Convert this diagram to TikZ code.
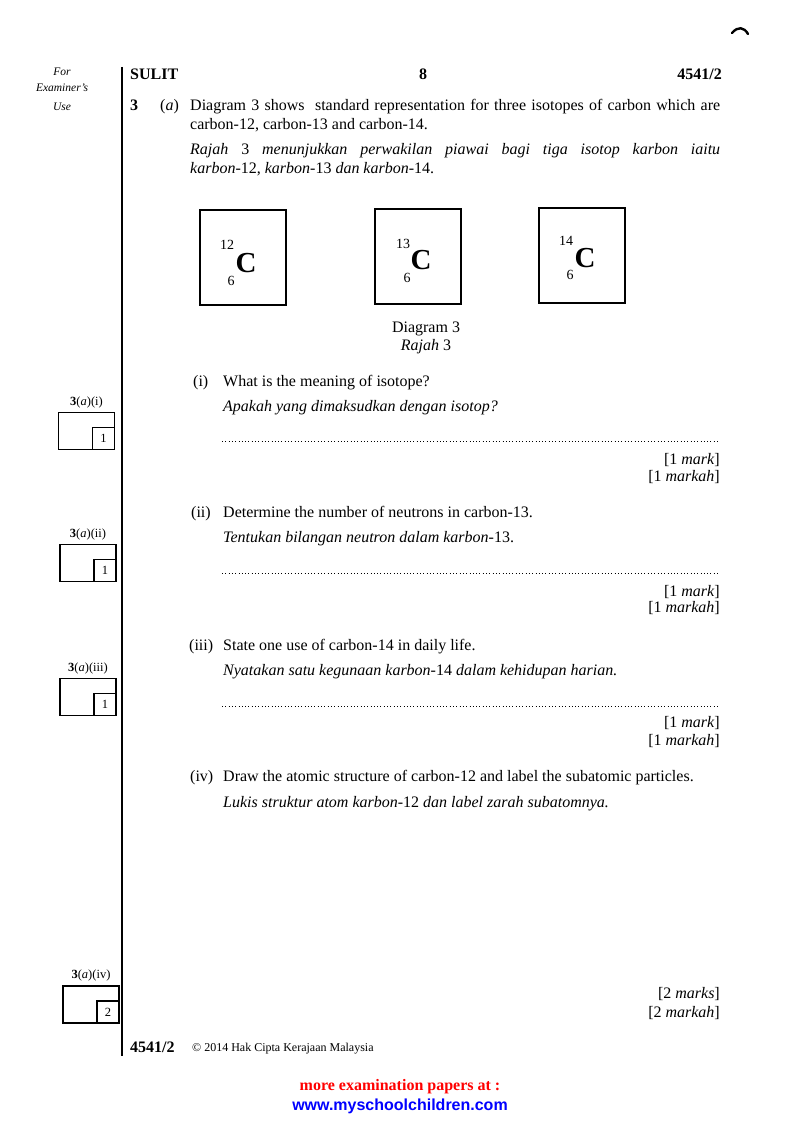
\documentclass[tikz,border=0pt]{standalone}
\usepackage{fontspec}
\setmainfont{Liberation Serif}
\setsansfont{Liberation Sans}
\usetikzlibrary{positioning}

\newcommand{\partlabel}[1]{\textbf{3}(\textit{a})(#1)}
\newcommand{\fullline}[1]{\makebox[530pt][s]{#1}}

\begin{document}
\begin{tikzpicture}[x=1pt,y=1pt,
  txt/.style={anchor=base west,inner sep=0pt,font=\fontsize{16}{19}\selectfont},
  ital/.style={txt,font=\fontsize{16}{19}\selectfont\itshape},
  bold/.style={txt,font=\fontsize{16}{19}\selectfont\bfseries},
  marktext/.style={anchor=base east,inner sep=0pt,font=\fontsize{16}{19}\selectfont},
  margin/.style={anchor=base,inner sep=0pt,font=\fontsize{11.5}{13}\selectfont\itshape},
  mlabel/.style={inner sep=0pt,font=\fontsize{12.5}{14}\selectfont},
  markbox/.style={draw,line width=1.2pt,minimum width=56pt,minimum height=37pt,inner sep=0pt},
  markcell/.style={draw,line width=1.2pt,minimum width=22pt,minimum height=22pt,inner sep=0pt,
    anchor=south east,font=\fontsize{12.5}{14}\selectfont},
  isobox/.style={draw,line width=1.4pt,minimum width=86pt,minimum height=95pt},
  elem/.style={inner sep=0pt,font=\fontsize{29}{32}\selectfont\bfseries},
  mass/.style={inner sep=0pt,font=\fontsize{14}{16}\selectfont},
  dotline/.style={line width=0.9pt,dash pattern=on 0.9pt off 2.4pt}]
  \useasboundingbox (0,0) rectangle (800,-1132);

  % corner mark
  \draw[line width=2.4pt,line cap=round] (732,-33) .. controls (738,-26) and (744,-27) .. (748,-34);

  % header and margin
  \node[margin] (for)  at (62,-76)  {For};
  \node[margin] (exam) at (62,-92)  {Examiner's};
  \node[margin] (use)  at (62,-110) {Use};
  \coordinate (rule_top) at (122,-67);
  \coordinate (rule_bot) at (122,-1056);
  \draw[line width=1.8pt] (rule_top) -- (rule_bot);
  \node[bold] (sulit) at (130,-79) {SULIT};
  \node[bold,anchor=base] (page) at (423,-79) {8};
  \node[bold,anchor=base east] (code) at (722,-79) {4541/2};

  % question stem
  \node[bold] (qnum) at (130,-110) {3};
  \node[txt] (qpart) at (160,-110) {(\textit{a})};
  \node[txt] (stem1) at (190,-110) {\fullline{Diagram 3 shows\ \ standard representation for three isotopes of carbon which are}};
  \node[txt] (stem2) at (190,-129) {carbon-12, carbon-13 and carbon-14.};
  \node[ital] (stem3) at (190,-154) {\fullline{Rajah \upshape3 \itshape menunjukkan perwakilan piawai bagi tiga isotop karbon iaitu}};
  \node[ital] (stem4) at (190,-173) {karbon\upshape-12, \itshape karbon\upshape-13 \itshape dan karbon\upshape-14.};

  % isotope boxes
  \node[isobox] (box12) at (243,-257.5) {};
  \node[elem] (c12) at (246,-263) {C};
  \node[mass] (a12) at (227,-245) {12};
  \node[mass] (z12) at (231,-281) {6};
  \node[isobox] (box13) at (418,-256.5) {};
  \node[elem] (c13) at (421,-260) {C};
  \node[mass] (a13) at (403,-244) {13};
  \node[mass] (z13) at (407,-278) {6};
  \node[isobox] (box14) at (582,-255.5) {};
  \node[elem] (c14) at (585,-258) {C};
  \node[mass] (a14) at (566,-241) {14};
  \node[mass] (z14) at (570,-275) {6};
  \node[txt,anchor=base] (cap1) at (426,-332) {Diagram 3};
  \node[ital,anchor=base] (cap2) at (426,-350) {Rajah \upshape3};

  % (i)
  \node[txt] (ni) at (193,-386) {(i)};
  \node[txt] (qi1) at (223,-386) {What is the meaning of isotope?};
  \node[ital] (qi2) at (223,-411) {Apakah yang dimaksudkan dengan isotop?};
  \draw[dotline] (222,-441) -- (720,-441);
  \node[marktext] (mi1) at (720,-464) {[1 \textit{mark}]};
  \node[marktext] (mi2) at (720,-481) {[1 \textit{markah}]};

  % (ii)
  \node[txt] (nii) at (191,-517) {(ii)};
  \node[txt] (qii1) at (223,-517) {Determine the number of neutrons in carbon-13.};
  \node[ital] (qii2) at (223,-542) {Tentukan bilangan neutron dalam karbon\upshape-13.};
  \draw[dotline] (222,-573) -- (720,-573);
  \node[marktext] (mii1) at (720,-596) {[1 \textit{mark}]};
  \node[marktext] (mii2) at (720,-612) {[1 \textit{markah}]};

  % (iii)
  \node[txt] (niii) at (189,-650) {(iii)};
  \node[txt] (qiii1) at (223,-650) {State one use of carbon-14 in daily life.};
  \node[ital] (qiii2) at (223,-675) {Nyatakan satu kegunaan karbon\upshape-14 \itshape dalam kehidupan harian.};
  \draw[dotline] (222,-706) -- (720,-706);
  \node[marktext] (miii1) at (720,-727) {[1 \textit{mark}]};
  \node[marktext] (miii2) at (720,-745) {[1 \textit{markah}]};

  % (iv)
  \node[txt] (niv) at (190,-781) {(iv)};
  \node[txt] (qiv1) at (223,-781) {Draw the atomic structure of carbon-12 and label the subatomic particles.};
  \node[ital] (qiv2) at (223,-807) {Lukis struktur atom karbon\upshape-12 \itshape dan label zarah subatomnya.};
  \node[marktext] (miv1) at (720,-998) {[2 \textit{marks}]};
  \node[marktext] (miv2) at (720,-1017) {[2 \textit{markah}]};

  % examiner boxes
  \node[markbox] (box_i) at (86.5,-431) {};
  \node[markcell] (cell_i) at (box_i.south east) {1};
  \node[mlabel] (lab_i) [above=4pt of box_i] {\partlabel{i}};
  \node[markbox] (box_ii) at (88,-563) {};
  \node[markcell] (cell_ii) at (box_ii.south east) {1};
  \node[mlabel] (lab_ii) [above=4pt of box_ii] {\partlabel{ii}};
  \node[markbox] (box_iii) at (88,-697) {};
  \node[markcell] (cell_iii) at (box_iii.south east) {1};
  \node[mlabel] (lab_iii) [above=4pt of box_iii] {\partlabel{iii}};
  \node[markbox] (box_iv) at (91,-1004.5) {};
  \node[markcell] (cell_iv) at (box_iv.south east) {2};
  \node[mlabel] (lab_iv) [above=4pt of box_iv] {\partlabel{iv}};

  % footer
  \node[bold] (fcode) at (130,-1052) {4541/2};
  \node[txt,font=\fontsize{12}{14}\selectfont] (copy) at (192,-1051) {\textcopyright\ 2014 Hak Cipta Kerajaan Malaysia};
  \node[txt,anchor=base,font=\fontsize{16}{19}\selectfont\bfseries,text=red] (more) at (400,-1090) {more examination papers at :};
  \node[txt,anchor=base,font=\fontsize{16}{19}\sffamily\bfseries,text=blue] (web) at (400,-1110) {www.myschoolchildren.com};
\end{tikzpicture}
\end{document}
